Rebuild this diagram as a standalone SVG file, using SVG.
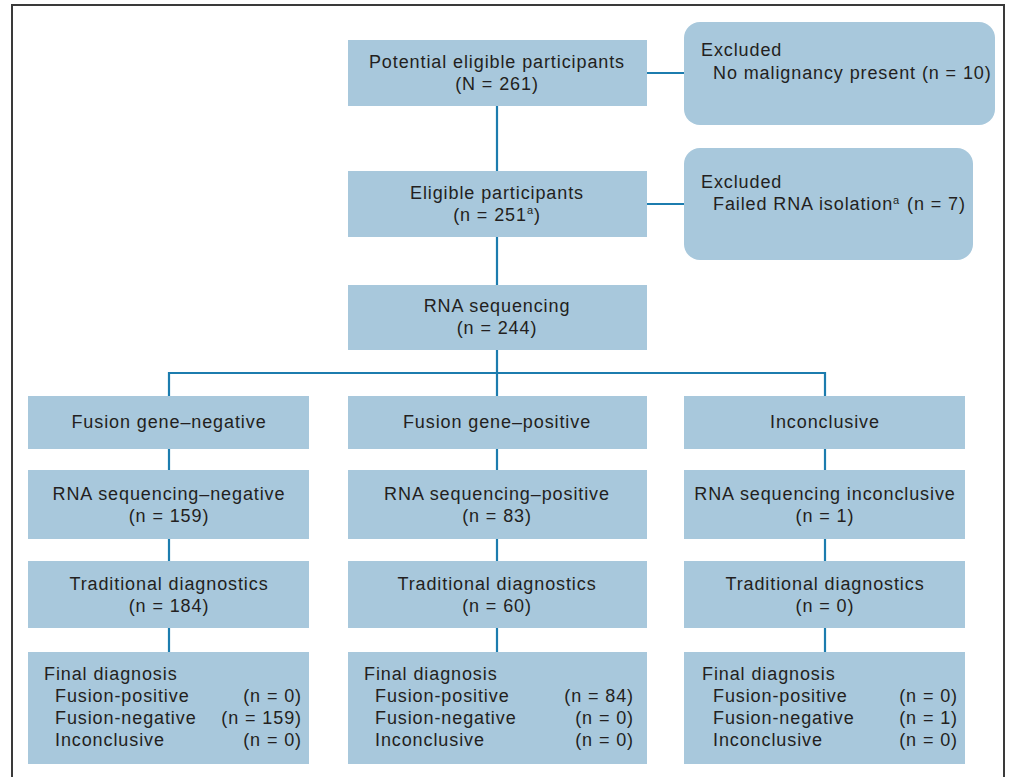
<svg xmlns="http://www.w3.org/2000/svg" width="1011" height="777" viewBox="0 0 1011 777">
<style>
.box{fill:#a8c8dc;}
.t{font-family:"Liberation Sans",Arial,sans-serif;font-size:18px;letter-spacing:0.9px;fill:#231f20;}
.c{text-anchor:middle;}
.r{text-anchor:end;}
.ln{stroke:#1c7cae;stroke-width:2.2;fill:none;}
.sup{font-size:11px;}
</style>
<rect x="0" y="0" width="1011" height="777" fill="#ffffff"/>
<rect x="12" y="5" width="992" height="800" fill="none" stroke="#3a3a3a" stroke-width="2"/>
<g id="connectors">
<path class="ln" d="M497 106V171M497 237V285M497 350V396M647 73H684M647 204H684M169 396V373H825V396M169 449V470M169 539V561M169 628V652M497 449V470M497 539V561M497 628V652M825 449V470M825 539V561M825 628V652"/>
</g>
<g id="n-potential">
<rect class="box" x="348" y="40" width="299" height="66"/>
<text class="t c" x="497" y="68">Potential eligible participants</text>
<text class="t c" x="497" y="90">(N = 261)</text>
</g>
<g id="n-excluded1">
<rect class="box" x="684" y="22" width="311" height="103" rx="16"/>
<text class="t" x="701" y="56">Excluded</text>
<text class="t" x="713" y="79" letter-spacing="0.8">No malignancy present (n = 10)</text>
</g>
<g id="n-eligible">
<rect class="box" x="348" y="171" width="299" height="66"/>
<text class="t c" x="497" y="199">Eligible participants</text>
<text class="t c" x="497" y="221">(n = 251<tspan class="sup" dy="-7">a</tspan><tspan dy="7">)</tspan></text>
</g>
<g id="n-excluded2">
<rect class="box" x="684" y="148" width="289" height="112" rx="16"/>
<text class="t" x="701" y="188">Excluded</text>
<text class="t" x="713" y="210">Failed RNA isolation<tspan class="sup" dy="-6">a</tspan></text>
<text class="t" x="907" y="210">(n = 7)</text>
</g>
<g id="n-rnaseq">
<rect class="box" x="348" y="285" width="299" height="65"/>
<text class="t c" x="497" y="312">RNA sequencing</text>
<text class="t c" x="497" y="334">(n = 244)</text>
</g>
<g id="n-fneg">
<rect class="box" x="28" y="396" width="281" height="53"/>
<text class="t c" x="169" y="428">Fusion gene–negative</text>
</g>
<g id="n-fpos">
<rect class="box" x="348" y="396" width="299" height="53"/>
<text class="t c" x="497" y="428">Fusion gene–positive</text>
</g>
<g id="n-incon">
<rect class="box" x="684" y="396" width="281" height="53"/>
<text class="t c" x="825" y="428">Inconclusive</text>
</g>
<g id="n-rnaneg">
<rect class="box" x="28" y="470" width="281" height="69"/>
<text class="t c" x="169" y="500">RNA sequencing–negative</text>
<text class="t c" x="169" y="522">(n = 159)</text>
</g>
<g id="n-rnapos">
<rect class="box" x="348" y="470" width="299" height="69"/>
<text class="t c" x="497" y="500">RNA sequencing–positive</text>
<text class="t c" x="497" y="522">(n = 83)</text>
</g>
<g id="n-rnainc">
<rect class="box" x="684" y="470" width="281" height="69"/>
<text class="t c" x="825" y="500">RNA sequencing inconclusive</text>
<text class="t c" x="825" y="522">(n = 1)</text>
</g>
<g id="n-trad1">
<rect class="box" x="28" y="561" width="281" height="67"/>
<text class="t c" x="169" y="590">Traditional diagnostics</text>
<text class="t c" x="169" y="612">(n = 184)</text>
</g>
<g id="n-trad2">
<rect class="box" x="348" y="561" width="299" height="67"/>
<text class="t c" x="497" y="590">Traditional diagnostics</text>
<text class="t c" x="497" y="612">(n = 60)</text>
</g>
<g id="n-trad3">
<rect class="box" x="684" y="561" width="281" height="67"/>
<text class="t c" x="825" y="590">Traditional diagnostics</text>
<text class="t c" x="825" y="612">(n = 0)</text>
</g>
<g id="n-final1">
<rect class="box" x="28" y="652" width="281" height="112"/>
<text class="t" x="44" y="680">Final diagnosis</text>
<text class="t" x="55" y="702">Fusion-positive</text>
<text class="t" x="55" y="724">Fusion-negative</text>
<text class="t" x="55" y="746">Inconclusive</text>
<text class="t r" x="302" y="702">(n = 0)</text>
<text class="t r" x="302" y="724">(n = 159)</text>
<text class="t r" x="302" y="746">(n = 0)</text>
</g>
<g id="n-final2">
<rect class="box" x="348" y="652" width="299" height="112"/>
<text class="t" x="364" y="680">Final diagnosis</text>
<text class="t" x="375" y="702">Fusion-positive</text>
<text class="t" x="375" y="724">Fusion-negative</text>
<text class="t" x="375" y="746">Inconclusive</text>
<text class="t r" x="634" y="702">(n = 84)</text>
<text class="t r" x="634" y="724">(n = 0)</text>
<text class="t r" x="634" y="746">(n = 0)</text>
</g>
<g id="n-final3">
<rect class="box" x="684" y="652" width="281" height="112"/>
<text class="t" x="702" y="680">Final diagnosis</text>
<text class="t" x="713" y="702">Fusion-positive</text>
<text class="t" x="713" y="724">Fusion-negative</text>
<text class="t" x="713" y="746">Inconclusive</text>
<text class="t r" x="958" y="702">(n = 0)</text>
<text class="t r" x="958" y="724">(n = 1)</text>
<text class="t r" x="958" y="746">(n = 0)</text>
</g>
</svg>
